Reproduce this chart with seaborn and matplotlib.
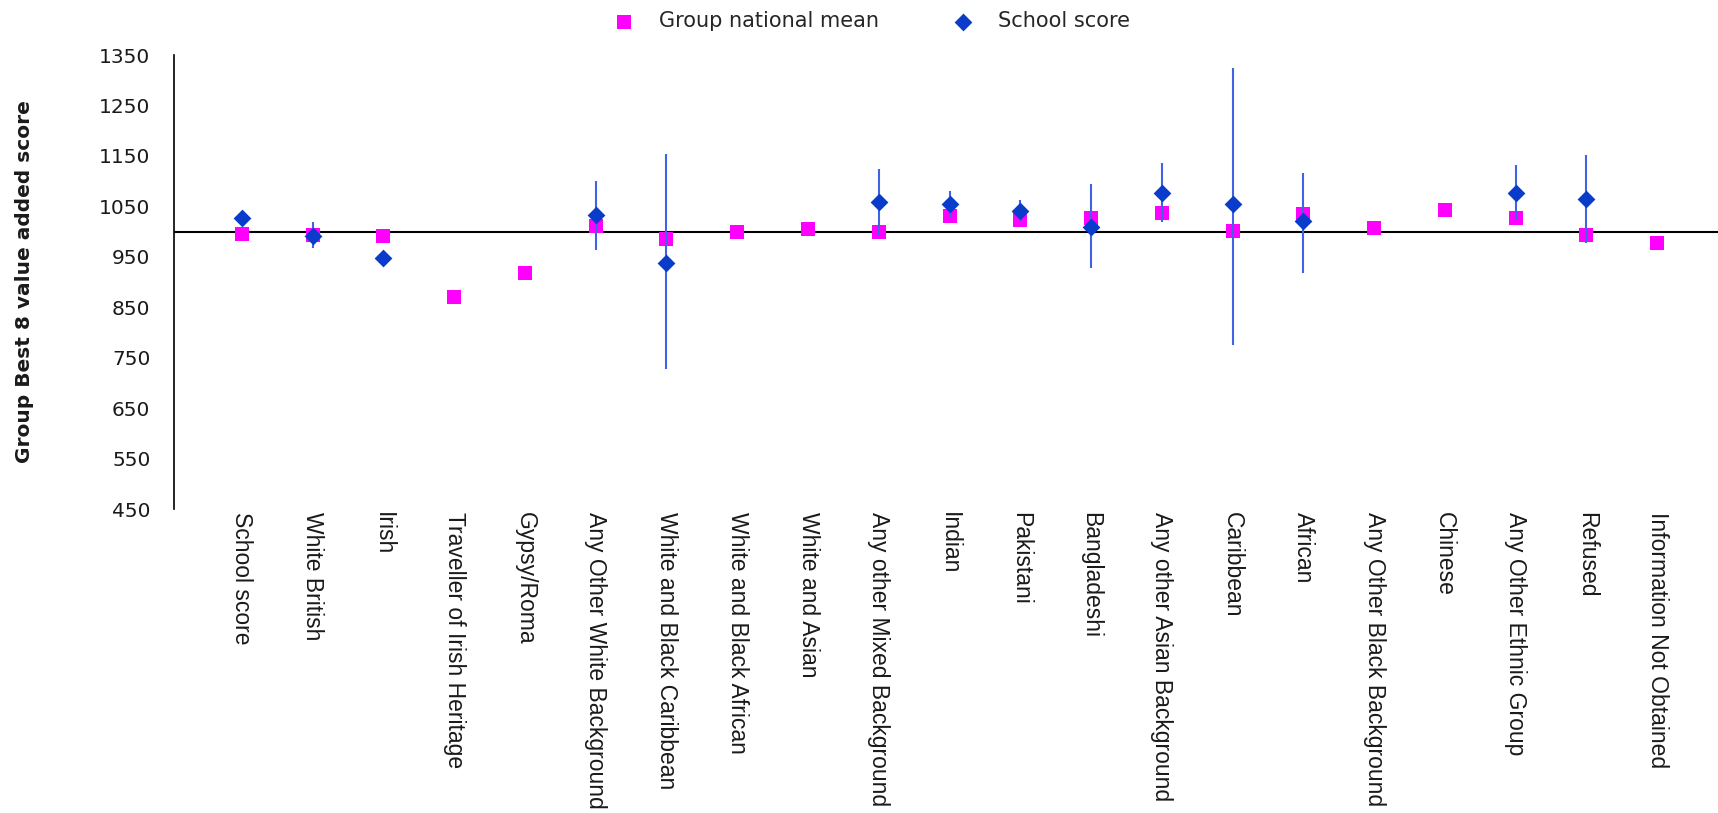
import numpy as np
import pandas as pd
import matplotlib
matplotlib.use("Agg")
import matplotlib.pyplot as plt
import seaborn as sns

categories = ["School score", "White British", "Irish", "Traveller of Irish Heritage",
              "Gypsy/Roma", "Any Other White Background", "White and Black Caribbean",
              "White and Black African", "White and Asian", "Any other Mixed Background",
              "Indian", "Pakistani", "Bangladeshi", "Any other Asian Background",
              "Caribbean", "African", "Any Other Black Background", "Chinese",
              "Any Other Ethnic Group", "Refused", "Information Not Obtained"]

national_mean = [996, 993, 991, 871, 918, 1011, 985, 1000, 1005, 1000, 1030,
                 1022, 1027, 1036, 1002, 1034, 1008, 1042, 1026, 993, 978]

nan = np.nan
school_score = [1026, 991, 947, nan, nan, 1033, 938, nan, nan, 1058, 1055,
                1041, 1009, 1076, 1054, 1020, nan, nan, 1077, 1065, nan]
ci_upper = [nan, 1019, nan, nan, nan, 1101, 1153, nan, nan, 1124, 1081,
            1063, 1094, 1136, 1324, 1116, nan, nan, 1131, 1152, nan]
ci_lower = [nan, 968, nan, nan, nan, 964, 727, nan, nan, 993, 1029,
            1019, 927, 1018, 775, 918, nan, nan, 1023, 978, nan]

yticks = list(range(450, 1351, 100))

sns.set_theme(style="white")
plt.rcParams['font.family'] = ['DejaVu Sans']

df = pd.DataFrame({"group": categories, "mean": national_mean,
                   "school": school_score, "hi": ci_upper, "lo": ci_lower})

fig = plt.figure(figsize=(17.18, 8.13), dpi=100)
ax = fig.add_axes([174 / 1718, 304 / 813, 1544 / 1718, 454 / 813])

sns.scatterplot(data=df, x="group", y="mean", marker="s", s=90, color="#ff00ff",
                linewidth=0, label="Group national mean", ax=ax, zorder=3)
bars = df.dropna(subset=["hi"])
ax.vlines(bars["group"], bars["lo"], bars["hi"], color="#4063e4", lw=1.5, zorder=3.5)
sns.scatterplot(data=df.dropna(subset=["school"]), x="group", y="school", marker="D",
                s=82, color="#0a3ccc", linewidth=0, label="School score", ax=ax, zorder=4)

ax.axhline(1000, color="black", lw=1.5, zorder=1)

handles, labels = ax.get_legend_handles_labels()
if ax.get_legend() is not None:
    ax.get_legend().remove()

ax.set_xlim(-0.96, 20.86)
ax.set_ylim(450, 1350)
ax.set_yticks(yticks)
ax.set_xticks(range(len(categories)))
ax.set_xticklabels(categories, rotation=-90, ha="center", va="top",
                   fontfamily="Liberation Sans", fontsize=16.5, color="#1a1a1a")
ax.tick_params(axis="x", length=0, pad=2)
ax.tick_params(axis="y", length=0, pad=17, labelsize=14.5, labelcolor="#1a1a1a")
ax.set_xlabel("")
ax.set_ylabel("Group Best 8 value added score", fontsize=14.5, fontweight="bold",
              color="#1a1a1a")
ax.yaxis.set_label_coords((34 - 174) / 1544, 0.5)

for side in ["top", "right", "bottom"]:
    ax.spines[side].set_visible(False)
ax.spines["left"].set_color("black")
ax.spines["left"].set_linewidth(1.2)
ax.grid(False)

fig.legend(handles, labels, loc="center", bbox_to_anchor=(0.5075, 0.974), ncol=2,
           frameon=False, fontsize=15, handlelength=1.0, handletextpad=1.18,
           columnspacing=3.54, scatterpoints=1)

fig.savefig("out.png", dpi=100)
